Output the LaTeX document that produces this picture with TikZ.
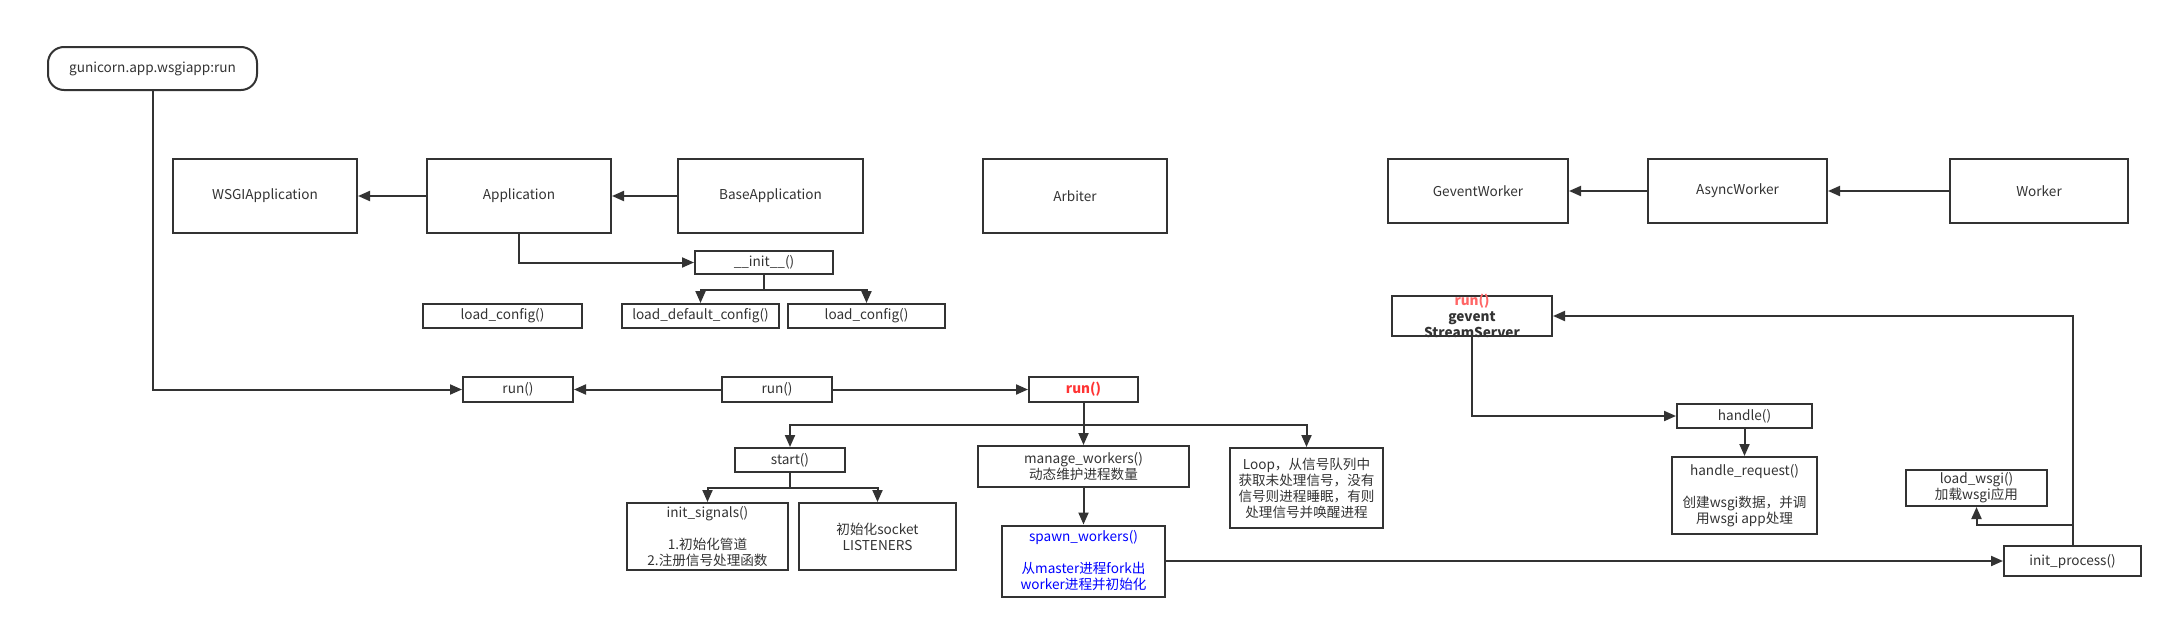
\documentclass[tikz,border=0pt]{standalone}
\usepackage{fontspec}
\setmainfont{Noto Sans CJK SC}
\usetikzlibrary{arrows.meta}
\definecolor{linegray}{HTML}{333333}
\definecolor{runred}{HTML}{FF3333}
\definecolor{pinkred}{HTML}{FF6666}
\definecolor{callblue}{HTML}{0000FF}
\tikzset{
  box/.style={draw=linegray, line width=1pt, text=linegray, inner sep=1pt, align=center,
    font=\fontsize{6.8}{8}\selectfont},
  link/.style={draw=linegray, line width=1pt, -{Triangle[length=6pt,width=5pt]}},
}

\begin{document}
\begin{tikzpicture}[x=0.5pt,y=-0.5pt]
	%%%%% START %%%%%
	\useasboundingbox (0,0) rectangle (2172,627);
	\def\yclass{196}
	\def\yworker{191}
	\def\yrun{389.5}

	% classes
	\node[box, rounded corners=8pt, minimum width=104.5pt, minimum height=21.5pt] (gunicorn) at (152.5,68.5) {gunicorn.app.wsgiapp:run};
	\node[box, minimum width=92pt, minimum height=37pt] (wsgiapp) at (265,\yclass) {WSGIApplication};
	\node[box, minimum width=92pt, minimum height=37pt] (application) at (519,\yclass) {Application};
	\node[box, minimum width=92.5pt, minimum height=37pt] (baseapp) at (770.5,\yclass) {BaseApplication};
	\node[box, minimum width=92pt, minimum height=37pt] (arbiter) at (1075,\yclass) {Arbiter};
	\node[box, minimum width=90pt, minimum height=32pt] (geventw) at (1478,\yworker) {GeventWorker};
	\node[box, minimum width=89.5pt, minimum height=32pt] (asyncw) at (1737.5,\yworker) {AsyncWorker};
	\node[box, minimum width=89pt, minimum height=32pt] (worker) at (2039,\yworker) {Worker};

	% config
	\node[box, minimum width=69pt, minimum height=11.5pt] (init) at (764,262.5) {\_\_init\_\_()};
	\node[box, minimum width=79.5pt, minimum height=12pt] (lconfA) at (502.5,316) {load\_config()};
	\node[box, minimum width=78.5pt, minimum height=12pt] (ldefault) at (700.5,316) {load\_default\_config()};
	\node[box, minimum width=78.5pt, minimum height=12pt] (lconfB) at (866.5,316) {load\_config()};

	% run chain
	\node[box, minimum width=55pt, minimum height=12.5pt] (runA) at (518,\yrun) {run()};
	\node[box, minimum width=55pt, minimum height=12.5pt] (runB) at (777,\yrun) {run()};
	\node[box, minimum width=54.5pt, minimum height=12.5pt] (runC) at (1083.5,\yrun) {\textcolor{runred}{\bfseries run()}};

	% arbiter run
	\node[box, minimum width=55pt, minimum height=12pt] (start) at (790,460) {start()};
	\node[box, minimum width=105.5pt, minimum height=20.5pt] (manage) at (1083.5,466.5) {manage\_workers()\\动态维护进程数量};
	\node[box, minimum width=76.5pt, minimum height=40pt] (loop) at (1306.5,488) {Loop，从信号队列中\\获取未处理信号，没有\\信号则进程睡眠，有则\\处理信号并唤醒进程};
	\node[box, minimum width=80.5pt, minimum height=33.5pt] (initsig) at (707.5,536.5) {init\_signals()\\[8pt]1.初始化管道\\2.注册信号处理函数};
	\node[box, minimum width=78.5pt, minimum height=33.5pt] (socket) at (877.5,536.5) {初始化socket\\LISTENERS};
	\node[box, minimum width=81.5pt, minimum height=35.5pt, text=callblue] (spawn) at (1083.5,561) {spawn\_workers()\\[8pt]从master进程fork出\\worker进程并初始化};

	% worker side
	\node[box, minimum width=80pt, minimum height=20pt, inner ysep=-2pt, font=\fontsize{6.8}{8}\selectfont\bfseries] (gevent) at (1472,316) {\textcolor{pinkred}{run()}\\gevent\\StreamServer};
	\node[box, minimum width=67.5pt, minimum height=12pt] (handle) at (1744.5,416) {handle()};
	\node[box, minimum width=72.5pt, minimum height=38.5pt] (handlereq) at (1744.5,495.5) {handle\_request()\\[8pt]创建wsgi数据，并调\\用wsgi app处理};
	\node[box, minimum width=70.5pt, minimum height=18pt] (loadwsgi) at (1976.5,488) {load\_wsgi()\\加载wsgi应用};
	\node[box, minimum width=68.5pt, minimum height=15pt] (initp) at (2072.5,561) {init\_process()};

	% connectors
	\draw[link] (application.west) -- (wsgiapp.east);
	\draw[link] (baseapp.west) -- (application.east);
	\draw[link] (asyncw.west) -- (geventw.east);
	\draw[link] (worker.west) -- (asyncw.east);
	\draw[link] (gunicorn.south) |- (runA.west);
	\draw[link] (application.south) |- (init.west);
	\draw[link] (init.south) -- ++(0,15) -| (ldefault.north);
	\draw[link] (init.south) -- ++(0,15) -| (lconfB.north);
	\draw[link] (runB.west) -- (runA.east);
	\draw[link] (runB.east) -- (runC.west);
	\draw[link] (runC.south) -- ++(0,22) -| (start.north);
	\draw[link] (runC.south) -- (manage.north);
	\draw[link] (runC.south) -- ++(0,22) -| (loop.north);
	\draw[link] (start.south) -- ++(0,15) -| (initsig.north);
	\draw[link] (start.south) -- ++(0,15) -| (socket.north);
	\draw[link] (manage.south) -- (spawn.north);
	\draw[link] (spawn.east) -- (initp.west);
	\draw[link] (initp.north) |- (gevent.east);
	\draw[link] (initp.north) -- ++(0,-20) -| (loadwsgi.south);
	\draw[link] (gevent.south) |- (handle.west);
	\draw[link] (handle.south) -- (handlereq.north);
	%%%%% END %%%%%
\end{tikzpicture}
\end{document}
